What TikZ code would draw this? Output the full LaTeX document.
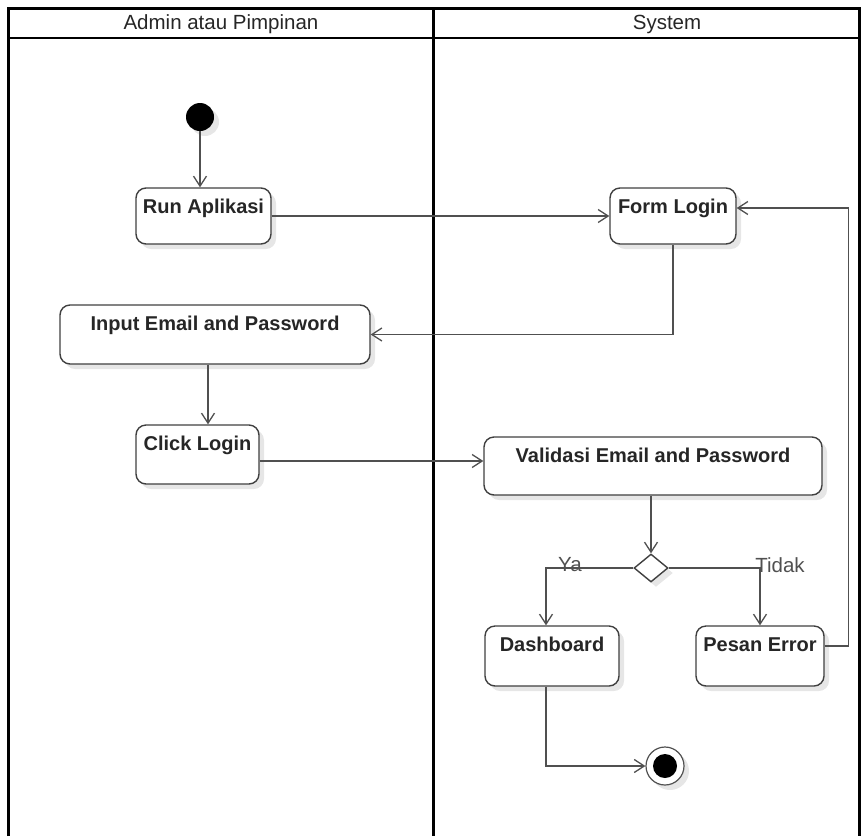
\documentclass[tikz,border=0pt]{standalone}
\usepackage{fontspec}
\setmainfont{Liberation Sans}
\usetikzlibrary{arrows.meta,shapes.geometric,shadows}
\definecolor{ln}{HTML}{505050}
\definecolor{bd}{HTML}{404040}
\definecolor{tx}{HTML}{262626}
\definecolor{sh}{HTML}{E6E6E6}
\begin{document}
\begin{tikzpicture}[x=1pt,y=-1pt,
 shd/.style={drop shadow={shadow xshift=5pt,shadow yshift=-5pt,fill=sh,opacity=1}},
 act/.style={draw=bd, line width=1.4pt, rounded corners=10pt, fill=white, shd, inner sep=0pt, text height=25pt, font=\fontsize{20}{23}\selectfont\bfseries, text=tx},
 flow/.style={draw=ln, line width=1.4pt, -{Straight Barb[length=10pt,width=13pt,line width=1.3pt]}},
 lane/.style={draw=black, line width=3pt},
 hdr/.style={font=\fontsize{20.5}{22}\selectfont, text=tx},
 guard/.style={font=\fontsize{20.5}{22}\selectfont, text=ln}
]
\useasboundingbox (0,0) rectangle (861,836);
% swimlanes
\draw[lane] (8,836) -- (8,8) -- (859,8) -- (859,836);
\draw[lane] (433,8) -- (433,836);
\draw[black, line width=1.6pt] (8,38) -- (859,38);
\node[hdr] (h1) at (221,24) {Admin atau Pimpinan};
\node[hdr] (h2) at (667,24) {System};
% nodes
\node[circle, fill=black, minimum size=28pt, inner sep=0pt, shd] (start) at (200,117) {};
\node[act, minimum width=135pt, text depth=31pt] (run) at (203.5,216) {Run Aplikasi};
\node[act, minimum width=126pt, text depth=31pt] (form) at (673,216) {Form Login};
\node[act, minimum width=310pt, text depth=34pt] (input) at (215,334.5) {Input Email and Password};
\node[act, minimum width=123pt, text depth=34pt] (click) at (197.5,454.5) {Click Login};
\node[act, minimum width=338pt, text depth=33pt] (valid) at (653,466) {Validasi Email and Password};
\node[diamond, draw=bd, line width=1.4pt, fill=white, minimum width=34pt, minimum height=28pt, inner sep=0pt, shd] (dec) at (651,568) {};
\node[act, minimum width=134pt, text depth=35pt] (dash) at (552,656) {Dashboard};
\node[act, minimum width=128pt, text depth=35pt] (err) at (760,656) {Pesan Error};
\node[circle, draw=ln, line width=1.2pt, fill=white, minimum size=38pt, inner sep=0pt, shd] (end) at (665,766) {};
\node[circle, fill=black, minimum size=24pt, inner sep=0pt] (endin) at (end) {};
% guards
\node[guard] (ya) at (570,565) {Ya};
\node[guard] (tidak) at (780,565) {Tidak};
% flows
\draw[flow] (start.south) -- (start.south |- run.north);
\draw[flow] (run.east) -- (form.west);
\draw[flow] (form.south) |- (input.east);
\draw[flow] ([xshift=-7pt]input.south) -- ([xshift=-7pt]input.south |- click.north);
\draw[flow] ([yshift=-6.5pt]click.east) -- ([yshift=-6.5pt]click.east -| valid.west);
\draw[flow] (valid.south -| dec.north) -- (dec.north);
\draw[flow] (dec.west) -| ([xshift=-6pt]dash.north);
\draw[flow] (dec.east) -| (err.north);
\draw[flow] ([yshift=10pt]err.east) -- ++(24,0) |- ([yshift=8pt]form.east);
\draw[flow] ([xshift=-6pt]dash.south) |- (end.west);
\end{tikzpicture}
\end{document}
